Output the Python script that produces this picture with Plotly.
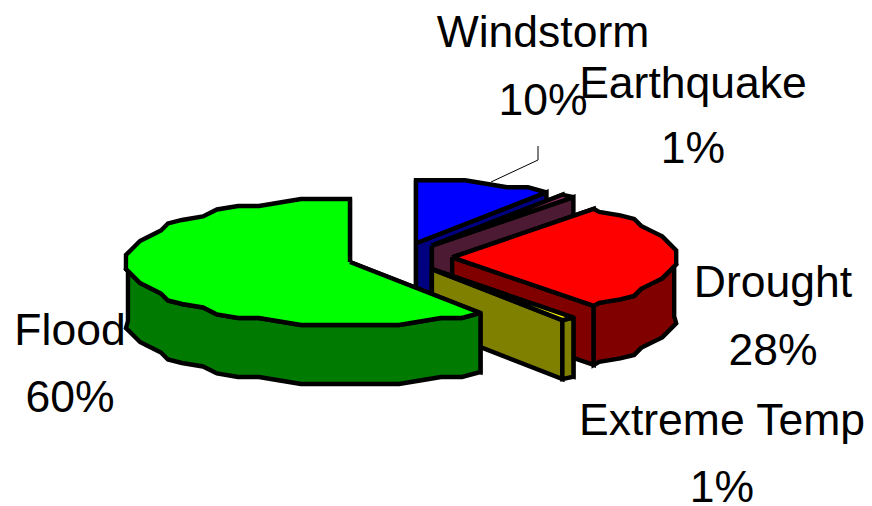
import numpy as np
import plotly.graph_objects as go

# Disaster shares, clockwise from twelve o'clock
categories = ["Windstorm", "Earthquake", "Drought", "Extreme Temp", "Flood"]
shares = [10, 1, 28, 1, 60]

top_colors = ["#0000FF", "#993366", "#FF0000", "#FFFF00", "#00FF00"]
side_colors = ["#000080", "#4D1A33", "#800000", "#808000", "#007A00"]

# Projected pie geometry, in page pixels
CX, CY = 399.8, 257.4
RX, RY = 222.0, 63.0
DEPTH = 59.0
EXPLODE = 0.236
SNAP_X, SNAP_Y = 7.0, 3.5
STEP = 6.0
OUTLINE = 4.4

# Label anchors: (x, y of name line, y of percent line)
label_anchor = [(543, 36, 104), (693, 87, 152), (773, 286, 354), (722, 424, 491), (70, 334, 401)]
leader_x = [491, 538, 538]
leader_y = [182, 160, 146]


def rim(a0, a1, ox, oy):
    """Rim points between two clockwise angles (degrees from the top)."""
    inner = np.arange(np.ceil(a0 / STEP + 1e-6), np.floor(a1 / STEP - 1e-6) + 1) * STEP
    t = np.radians(np.r_[a0, inner, a1])
    x = ox + RX * np.sin(t)
    y = oy - RY * np.cos(t)
    # The outline steps along a coarse raster, as old office charts do
    x[1:-1] = ox + np.round((x[1:-1] - ox) / SNAP_X) * SNAP_X
    y[1:-1] = oy + np.round((y[1:-1] - oy) / SNAP_Y) * SNAP_Y
    return x, y


def poly(fig, x, y, color):
    fig.add_trace(go.Scatter(
        x=list(x) + [x[0]], y=list(y) + [y[0]], mode="lines", fill="toself",
        fillcolor=color, line=dict(color="black", width=OUTLINE, simplify=False),
        hoverinfo="skip", showlegend=False,
    ))


fig = go.Figure()
total = sum(shares)
start = 0.0
for name, share, top, side in zip(categories, shares, top_colors, side_colors):
    end = start + share / total * 360.0
    mid = np.radians((start + end) / 2)
    ox = CX + EXPLODE * RX * np.sin(mid)
    oy = CY - EXPLODE * RY * np.cos(mid)

    # Cut faces along both radial edges
    for a in (start, end):
        ex, ey = ox + RX * np.sin(np.radians(a)), oy - RY * np.cos(np.radians(a))
        poly(fig, [ox, ex, ex, ox], [oy, ey, ey + DEPTH, oy + DEPTH], side)

    # Outer wall, only the part of the rim that faces forward
    w0, w1 = max(start, 90.0), min(end, 270.0)
    if w1 > w0:
        rx, ry = rim(w0, w1, ox, oy)
        poly(fig, np.r_[rx, rx[::-1]], np.r_[ry, ry[::-1] + DEPTH], side)

    # Top surface
    rx, ry = rim(start, end, ox, oy)
    poly(fig, np.r_[ox, rx], np.r_[oy, ry], top)
    start = end

fig.add_trace(go.Scatter(
    x=leader_x, y=leader_y, mode="lines", line=dict(color="black", width=1),
    hoverinfo="skip", showlegend=False,
))

label_x, label_y, label_text = [], [], []
for name, share, (lx, ny, py) in zip(categories, shares, label_anchor):
    label_x += [lx, lx]
    label_y += [ny, py]
    label_text += [name, f"{share}%"]
fig.add_trace(go.Scatter(
    x=label_x, y=label_y, text=label_text, mode="text", textposition="middle center",
    textfont=dict(family="Liberation Sans", size=44.5, color="black"),
    hoverinfo="skip", showlegend=False, cliponaxis=False,
))

fig.update_layout(
    width=872, height=506, margin=dict(l=0, r=0, t=0, b=0),
    paper_bgcolor="white", plot_bgcolor="white", showlegend=False,
    xaxis=dict(range=[0, 872], visible=False, fixedrange=True),
    yaxis=dict(range=[506, 0], visible=False, fixedrange=True),
)
fig.write_html("out.html", config=dict(displayModeBar=False))
